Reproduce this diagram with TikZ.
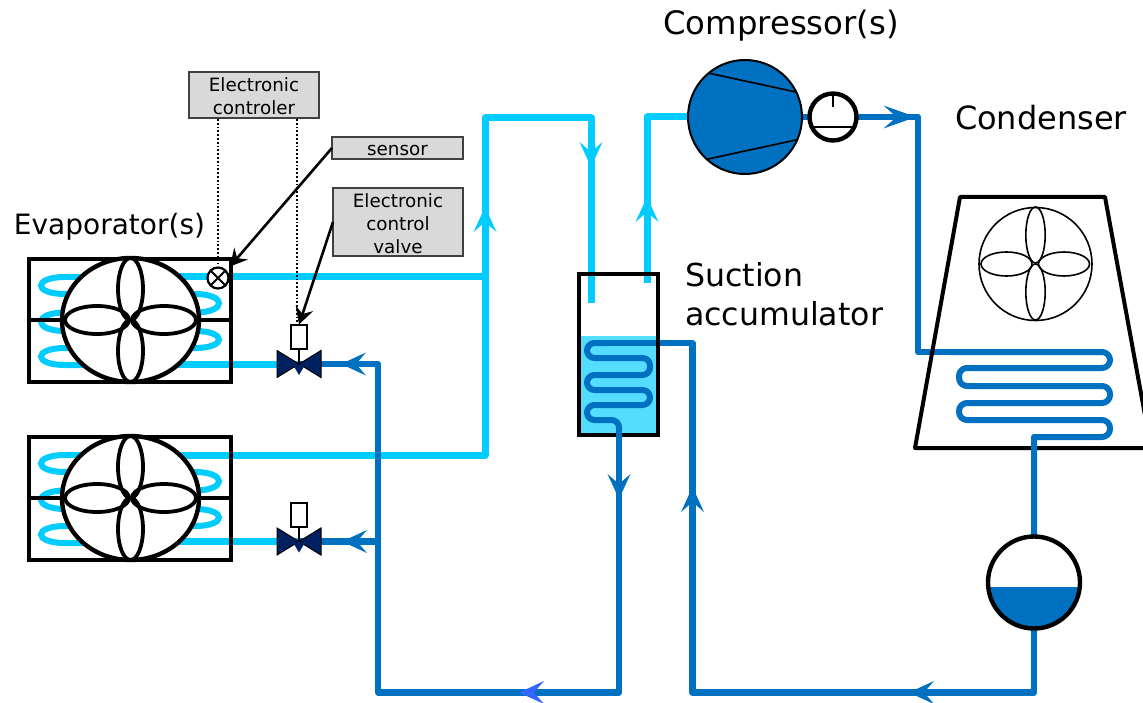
\documentclass[tikz,border=0pt]{standalone}
\usepackage{fontspec}
\setmainfont{DejaVu Sans}
\usetikzlibrary{arrows.meta}
\definecolor{lt}{HTML}{00CCFF}
\definecolor{dk}{HTML}{0070C0}
\definecolor{navy}{HTML}{002060}
\definecolor{liq}{HTML}{55DDFF}
\definecolor{boxg}{HTML}{D9D9D9}
\definecolor{bluetip}{HTML}{3366FF}
\tikzset{
  ltpipe/.style={draw=lt,line width=7pt,line join=round},
  dkpipe/.style={draw=dk,line width=6.5pt,line join=round},
  coilpipe/.style={draw=dk,line width=6pt,line join=round},
  infobox/.style={draw=black!75,fill=boxg,line width=1.2pt,inner sep=0pt,outer sep=0pt,align=center,font=\fontsize{18.3}{22.7}\selectfont},
  biglabel/.style={inner sep=0pt,font=\fontsize{32}{39}\selectfont},
  ctrlline/.style={draw=black,line width=1.8pt,dotted},
  pointer/.style={draw=black,line width=2.6pt,-{Stealth[length=17pt,width=18pt,inset=6pt]}},
  round/.style={circle,inner sep=0pt,outer sep=0pt},
  pics/barb/.style={code={\fill[pic actions] (0,0)--(-25,-11.5)--(-15,0)--(-25,11.5)--cycle;}},
  pics/evap/.style={code={
    \draw[draw=lt,line width=6pt]
      (110,277) -- (65,277) .. controls (33,277) and (33,294) .. (65,294)
      -- (195,294) .. controls (227,294) and (227,312.5) .. (195,312.5)
      -- (65,312.5) .. controls (33,312.5) and (33,331) .. (65,331)
      -- (195,331) .. controls (227,331) and (227,348) .. (195,348)
      -- (65,348) .. controls (33,348) and (33,365) .. (65,365) -- (100,365);
    \draw[line width=4.4pt] (29,259) rectangle (231,382);
    \draw[line width=4.4pt] (29,320) -- (231,320);
    \draw[fill=white,line width=4.4pt] (130.5,320) ellipse [x radius=68.5,y radius=62];
    \draw[line width=3.8pt] (130.5,289) ellipse [x radius=12.5,y radius=31];
    \draw[line width=3.8pt] (130.5,351) ellipse [x radius=12.5,y radius=31];
    \draw[line width=3.8pt] (97,320) ellipse [x radius=32,y radius=14];
    \draw[line width=3.8pt] (164,320) ellipse [x radius=32,y radius=14];
  }},
  pics/bowtie/.style={code={
    \draw[fill=navy,line width=1pt,line join=miter] (-22,-13.5) -- (22,13.5) -- (22,-13.5) -- (-22,13.5) -- cycle;
    \fill[navy] (-6,1) -- (6,1) -- (0,11) -- cycle;
  }},
}
\begin{document}
\begin{tikzpicture}[x=1pt,y=-1pt]
\useasboundingbox (0,0) rectangle (1143,703);
\clip (0,0) rectangle (1143,703);

% junctions and corners
\coordinate (j1) at (485,277);
\coordinate (j2) at (485,455);
\coordinate (j3) at (378,541.5);
\coordinate (top1) at (485,118);
\coordinate (top2) at (591,118);
\coordinate (acin) at (591,303);
\coordinate (acout) at (647,283);
\coordinate (v1) at (299,364);
\coordinate (v2) at (299,541.5);
\coordinate (e1a) at (140,277);
\coordinate (e1b) at (140,365);
\coordinate (e2a) at (140,455);
\coordinate (e2b) at (140,543);
\coordinate (senstip) at (230,266.5);

% equipment nodes (positions first, so pipes can name them)
\node[round,minimum size=114pt] (comp) at (745,117) {};
\node[round,minimum size=47pt] (gauge) at (833,117) {};
\node[round,minimum size=92pt] (recv) at (1034,582.5) {};
\node[round,minimum size=22pt] (sens) at (218,278) {};
\coordinate (c1) at (918,117);
\coordinate (c2) at (918,352);

% suction pipes
\draw[ltpipe] (e1a) -- (j1);
\draw[ltpipe] (e2a) -- (j2) -- (top1) -- (top2) -- (acin);
\draw[ltpipe] (acout) -- (647,117) -- (comp.west);
\draw[ltpipe] (e1b |- v1) -- (v1);
\draw[ltpipe] (e2b |- v2) -- (v2);

% evaporators
\pic at (0,0) {evap};
\pic at (0,178) {evap};

% liquid pipes to the valves
\draw[dkpipe] (v1) -- (378,364) -- (378,692.5) -- (619,692.5) -- (619,420);
\draw[dkpipe] (j3) -- (v2);

% accumulator
\fill[liq] (578,336) rectangle (658,435);
\draw[dkpipe] (recv.south) -- (1034,692.5) -- (692.5,692.5) -- (692.5,343) -- (610,343);
\draw[coilpipe] (610,343) [rounded corners=7.5pt]
  -- (587,343) -- (587,358) -- (650,358) -- (650,375) -- (587,375) -- (587,390)
  -- (650,390) -- (650,405) -- (587,405) -- (587,420) -- (619,420) [sharp corners] -- (619,430);
\node[draw=black,line width=4pt,inner sep=0pt,outer sep=0pt,minimum width=79pt,minimum height=161pt] (accu) at (618,354.5) {};
\draw[dkpipe] (619,425) -- (619,445);

% compressor and gauge
\draw[dkpipe] (comp.east) -- (gauge.west);
\draw[dkpipe] (gauge.east) -- (c1) -- (c2) -- (960,352);
\node[round,minimum size=114pt,draw=black,fill=dk,line width=2pt] at (comp) {};
\draw[line width=1.6pt] (708,73) -- (796,92);
\draw[line width=1.6pt] (708,159) -- (796,140);
\node[round,minimum size=47pt,draw=black,fill=white,line width=4.4pt] at (gauge) {};
\draw[line width=1.6pt] (833,95) -- (833,107);
\draw[line width=1.6pt] (812,127) -- (854,127);

% condenser
\draw[line width=4pt,line join=round] (960,197) -- (1105,197) -- (1151,448) -- (915,448) -- cycle;
\draw[line width=1.6pt] (1035.5,264) circle (56.5);
\draw[line width=1.6pt] (1035.5,235) ellipse [x radius=9.7,y radius=28];
\draw[line width=1.6pt] (1035.5,292) ellipse [x radius=9.7,y radius=28];
\draw[line width=1.6pt] (1006.5,264) ellipse [x radius=25.5,y radius=12];
\draw[line width=1.6pt] (1064,264) ellipse [x radius=25.5,y radius=12];
\draw[coilpipe] (950,352) [rounded corners=8pt] -- (1110,352) -- (1110,368) -- (959,368) -- (959,386)
  -- (1110,386) -- (1110,403) -- (959,403) -- (959,420) -- (1110,420) -- (1110,437) [sharp corners] -- (1034,437) -- (recv.north);

% receiver
\node[round,minimum size=92pt,fill=white] at (recv) {};
\begin{scope}
  \clip (recv) circle (46);
  \fill[dk] (980,587) rectangle (1090,640);
\end{scope}
\node[round,minimum size=92pt,draw=black,line width=4.4pt] at (recv) {};

% valves
\pic at (v1) {bowtie};
\pic at (v2) {bowtie};
\node[draw=black,fill=white,line width=2pt,inner sep=0pt,outer sep=0pt,minimum width=16pt,minimum height=24pt] (act1) at (299,336.5) {};
\node[draw=black,fill=white,line width=2pt,inner sep=0pt,outer sep=0pt,minimum width=16pt,minimum height=24pt] (act2) at (299,515) {};
\draw[line width=1.6pt] (act1.south) -- (v1);
\draw[line width=1.6pt] (act2.south) -- (v2);

% info boxes
\node[infobox,minimum width=130pt,minimum height=46pt] (ctrlbg) at (254,95) {};
\node[inner sep=0pt,align=center,font=\fontsize{18.3}{22.7}\selectfont] at (254,96.5) {Electronic\\controler};
\node[infobox,minimum width=131pt,minimum height=22pt] (sbox) at (397.5,148) {};
\node[inner sep=0pt,font=\fontsize{18.3}{22.7}\selectfont] at (397.5,150.5) {sensor};
\node[infobox,minimum width=130pt,minimum height=68pt] (vbox) at (398,222) {};
\node[inner sep=0pt,align=center,font=\fontsize{18.3}{22.7}\selectfont] at (398,223.5) {Electronic\\control\\valve};
\draw[ctrlline] (218,119) -- (218,264);
\draw[ctrlline] (297,119) -- (297,322);

% sensor
\node[round,minimum size=21pt,draw=black,fill=white,line width=2.2pt] at (sens) {};
\draw[line width=1.8pt] (sens.north east) -- (sens.south west);
\draw[line width=1.8pt] (sens.north west) -- (sens.south east);
\draw[pointer] (sbox.west) -- (senstip);
\draw[pointer] (vbox.west) -- (act1.north);

% arrowheads
\pic[rotate=180,fill=dk] at (341,364) {barb};
\pic[rotate=180,fill=dk] at (342,541.5) {barb};
\pic[rotate=90,fill=lt] at (485,207) {barb};
\pic[rotate=270,fill=lt] at (591,167) {barb};
\pic[rotate=90,fill=lt] at (647,197) {barb};
\pic[fill=dk,xscale=1.3] at (916,117) {barb};
\pic[rotate=270,fill=dk] at (619,499) {barb};
\pic[rotate=90,fill=dk] at (692.5,487) {barb};
\pic[rotate=180,fill=bluetip] at (519,692.5) {barb};
\pic[rotate=180,fill=dk] at (909,692.5) {barb};

% labels
\node[biglabel,font=\fontsize{32.3}{39}\selectfont] at (781,26) {Compressor(s)};
\node[biglabel] at (1041,118) {Condenser};
\node[biglabel,font=\fontsize{28}{34}\selectfont] at (109.5,227) {Evaporator(s)};
\node[biglabel,align=left,anchor=west,font=\fontsize{31.6}{39}\selectfont] at (685,294) {Suction\\accumulator};
\end{tikzpicture}
\end{document}
